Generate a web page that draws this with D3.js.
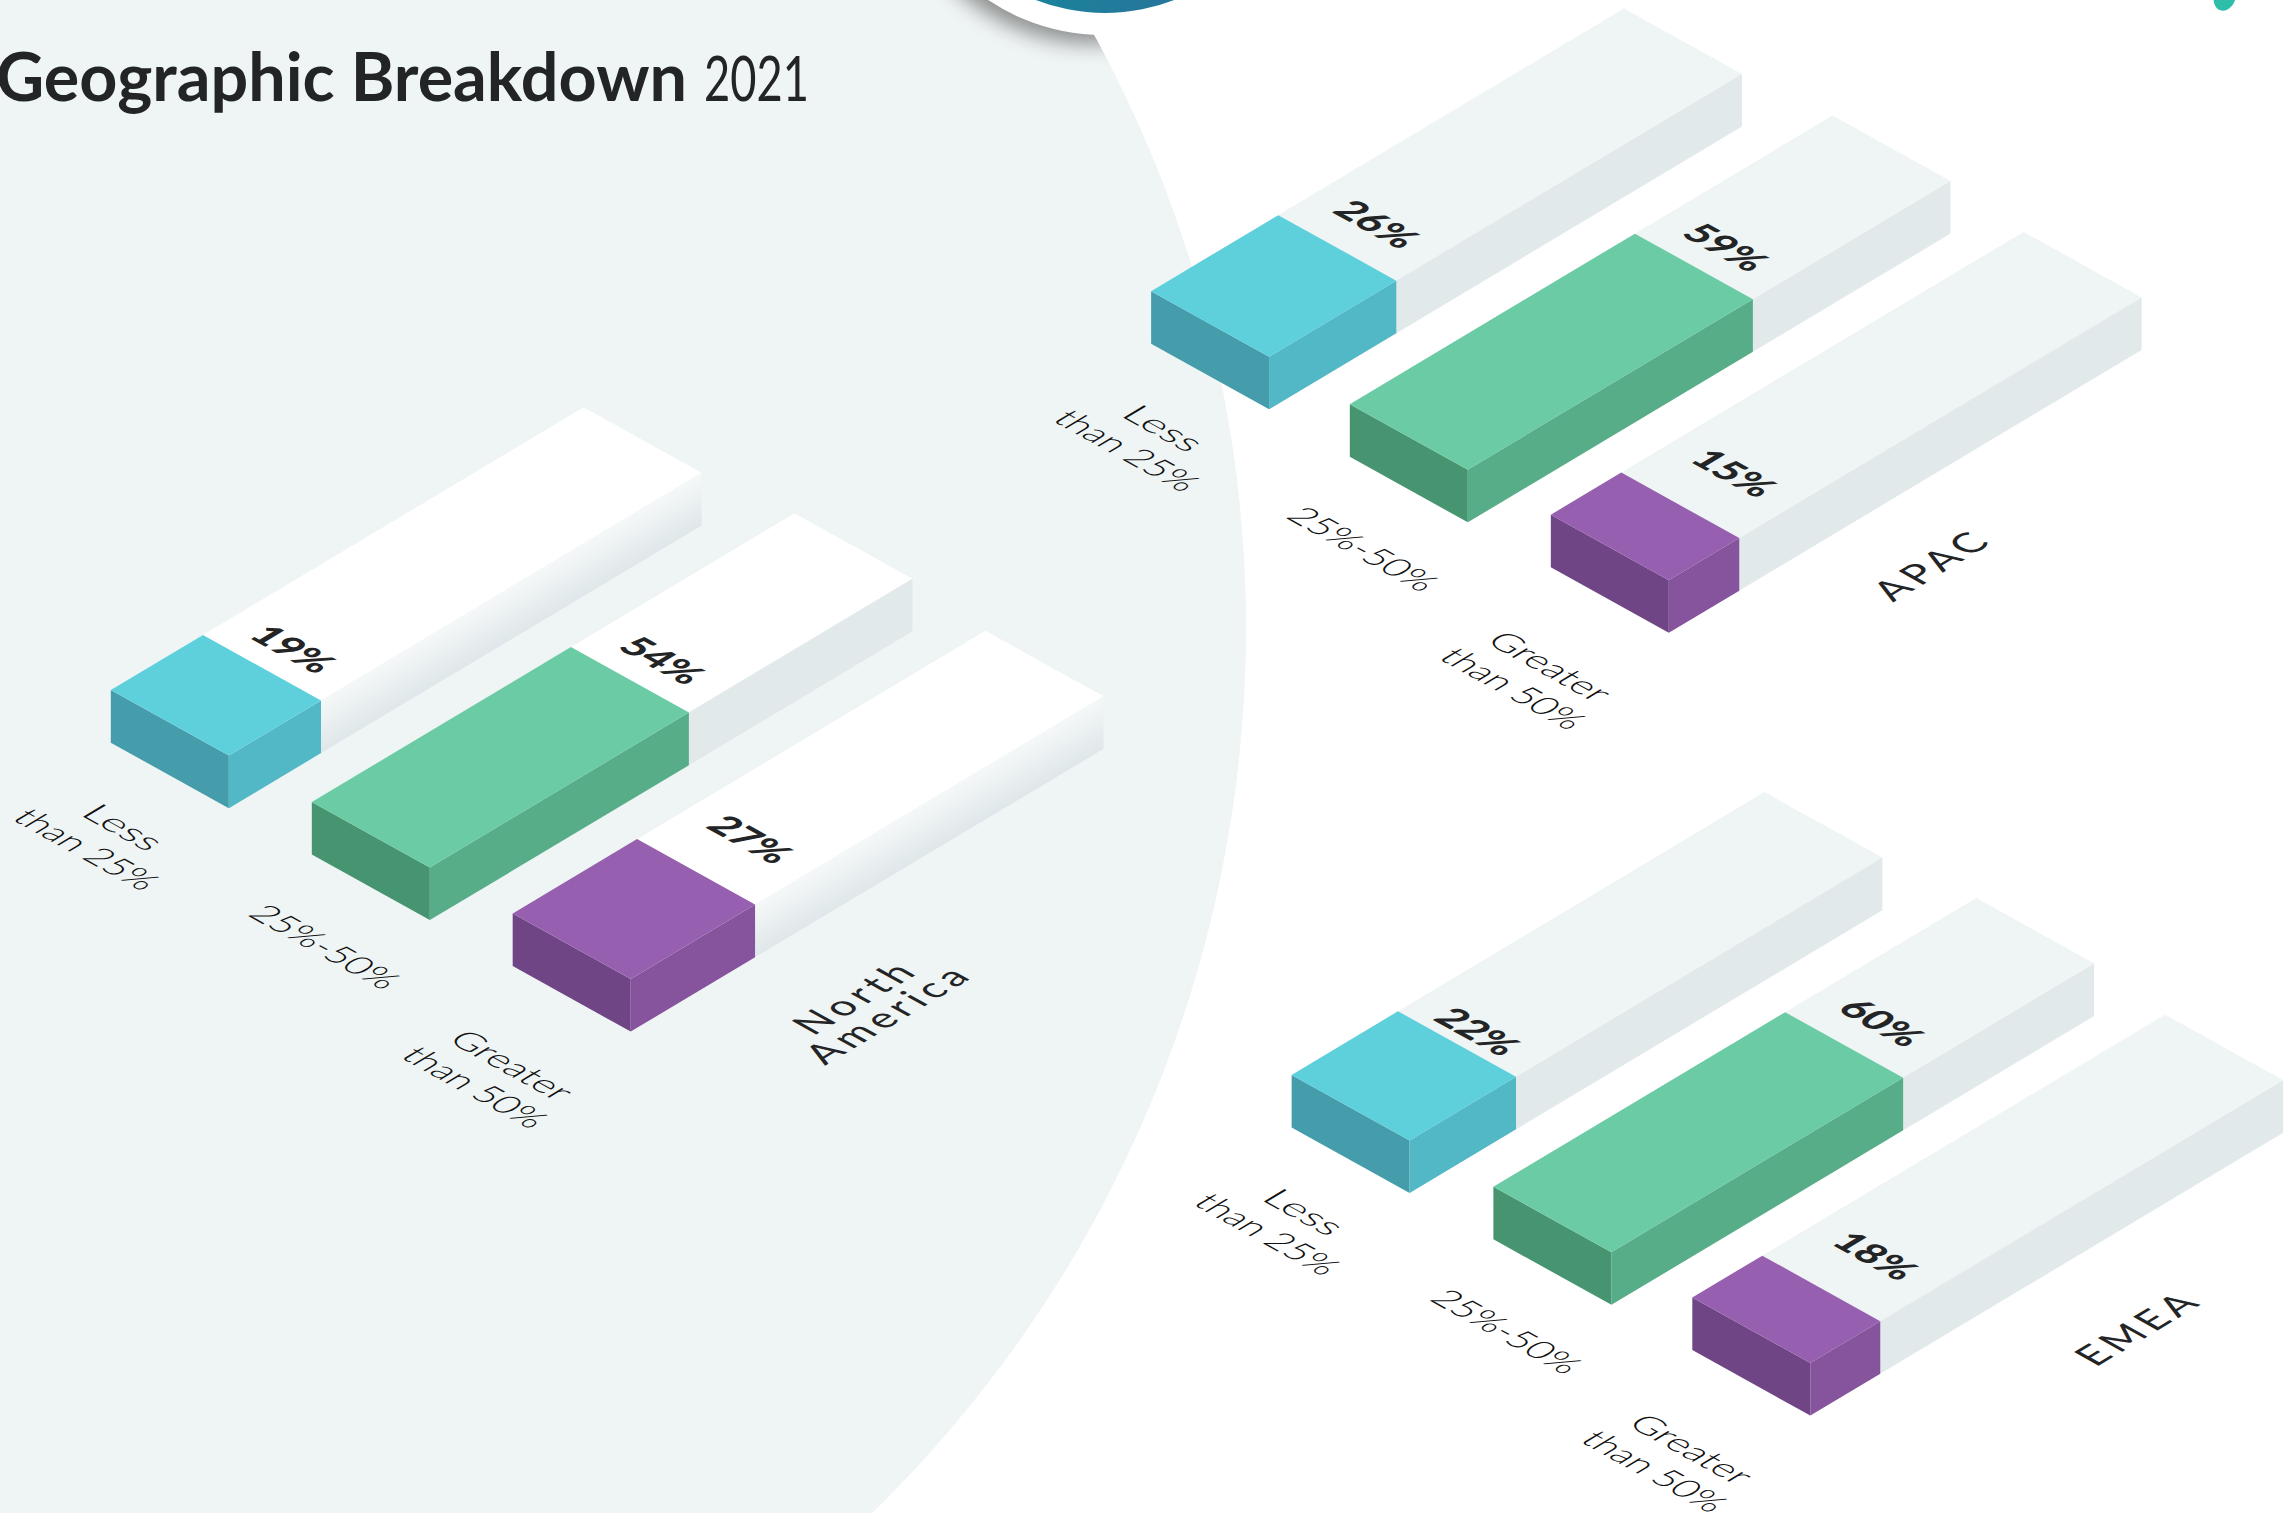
<!DOCTYPE html>
<html><head><meta charset="utf-8">
<style>html,body{margin:0;padding:0;background:#fff;overflow:hidden}svg{display:block}text{font-family:Lato,sans-serif;fill:#232425}</style>
<script src="https://cdn.jsdelivr.net/npm/d3@7/dist/d3.min.js"></script>
</head><body><svg id="c" width="2288" height="1513"></svg>
<script>
// Data
const regions = ["North America", "APAC", "EMEA"];
const categories = ["Less than 25%", "25%-50%", "Greater than 50%"];
const categoryLines = [["Less", "than 25%"], ["25%-50%"], ["Greater", "than 50%"]];
const printedNorthAmerica = [19, 54, 27];
const printedApac = [26, 59, 15];
const printedEmea = [22, 60, 18];
// Drawn bar lengths as measured from the artwork (percent of the track)
const drawnNorthAmerica = [19.5, 54.8, 26.3];
const drawnApac = [26.9, 60.3, 14.9];
const drawnEmea = [22.5, 61.7, 14.8];
const trackExtent = [100, 102.1, 100];
const titleBold = "Geographic Breakdown";
const titleLight = "2021";

// Layout
const colorTop = ["#5ED0DC", "#6ACBA4", "#975FB0"];
const colorLeft = ["#459DAC", "#479570", "#704585"];
const colorRight = ["#52B8C6", "#56AD87", "#86549C"];
const lenX = d3.scaleLinear([0, 100], [0, 472.8]);
const lenY = d3.scaleLinear([0, 100], [0, -282.8]);
const depth = [118, 65.5], rise = 52.6;
const ux = [.874, .485], uy = [-.858, .513], uv = [.858, -.513];
const panelCfg = [
  {name: regions[0], printed: printedNorthAmerica, drawn: drawnNorthAmerica, o: [228.8, 755.6],
   stepX: [0, 201, 401.9], stepY: [0, 111.9, 223.4], labelAt: [6.6, 6.9, 11.5], onPanel: true,
   nameLines: [["North", 855, 997], ["America", 888, 1014]]},
  {name: regions[1], printed: printedApac, drawn: drawnApac, o: [1269.1, 356.7],
   stepX: [0, 198.7, 399.7], stepY: [0, 113, 223.5], labelAt: [8.4, 6.8, 11.4], onPanel: false,
   nameLines: [["APAC", 1932, 565]]},
  {name: regions[2], printed: printedEmea, drawn: drawnEmea, o: [1409.6, 1140.4],
   stepX: [0, 201.8, 400.7], stepY: [0, 111.8, 222.6], labelAt: [4.4, 8.0, 11.5], onPanel: false,
   nameLines: [["EMEA", 2138, 1328]]}
];
const catAnchor = [[-105, 71.5], [-104.5, 79], [-118.5, 86]];
const catLengths = [[78, 150], [156], [126, 150]];
const catStep = 43;

const svg = d3.select("#c");
const defs = svg.append("defs");
const poly = pts => pts.map(p => p.join(",")).join(" ");
const groundT = (x, y) => `matrix(${ux[0]},${ux[1]},${uy[0]},${uy[1]},${x},${y})`;
const nameT = (x, y) => `matrix(${uv[0]},${uv[1]},${ux[0]},${ux[1]},${x},${y})`;

// background
const bigCircle = {cx: 12, cy: 628, r: 1234};
svg.append("rect").attr("width", 2288).attr("height", 1513).attr("fill", "#fff");
svg.append("circle").attr("cx", bigCircle.cx).attr("cy", bigCircle.cy).attr("r", bigCircle.r).attr("fill", "#EFF4F4");

defs.append("clipPath").attr("id", "bigClip").append("circle")
  .attr("cx", bigCircle.cx).attr("cy", bigCircle.cy).attr("r", bigCircle.r);
defs.append("filter").attr("id", "blur").attr("x", "-20%").attr("y", "-20%").attr("width", "140%").attr("height", "140%")
  .append("feGaussianBlur").attr("stdDeviation", 10);
const tealG = defs.append("linearGradient").attr("id", "teal");
tealG.append("stop").attr("offset", 0).attr("stop-color", "#118F9B");
tealG.append("stop").attr("offset", 1).attr("stop-color", "#30699A");

svg.append("g").attr("clip-path", "url(#bigClip)").append("circle")
  .attr("cx", 1095).attr("cy", -162).attr("r", 206).attr("fill", "#555").attr("opacity", .62).attr("filter", "url(#blur)");
svg.append("circle").attr("cx", 1103).attr("cy", -171).attr("r", 206).attr("fill", "#fff");
svg.append("circle").attr("cx", 1105).attr("cy", -178).attr("r", 191).attr("fill", "url(#teal)");
svg.append("ellipse").attr("cx", 2225).attr("cy", -4).attr("rx", 11).attr("ry", 15)
  .attr("transform", "rotate(18 2225 -4)").attr("fill", "#2EBDA9");

// title
svg.append("text").attr("x", -4).attr("y", 101).attr("font-size", 66).attr("font-weight", 700)
  .attr("textLength", 691).attr("lengthAdjust", "spacingAndGlyphs").text(titleBold);
svg.append("text").attr("x", 704).attr("y", 101).attr("font-size", 62).attr("font-weight", 400)
  .attr("textLength", 105).attr("lengthAdjust", "spacingAndGlyphs").text(titleLight);

panelCfg.forEach((p, pi) => {
  const g = svg.append("g").attr("class", "panel").attr("data-region", p.name);
  const px = d3.scaleOrdinal(categories, p.stepX);
  const py = d3.scaleOrdinal(categories, p.stepY);
  categories.forEach((cat, i) => {
    const F = [p.o[0] + px(cat), p.o[1] + py(cat)];
    const L = [F[0] - depth[0], F[1] - depth[1]];
    const along = (pt, v) => [pt[0] + lenX(v), pt[1] + lenY(v)];
    const down = pt => [pt[0], pt[1] + rise];
    const farF = along(F, trackExtent[i]), farL = along(L, trackExtent[i]);
    // track
    g.append("polygon").attr("points", poly([L, farL, farF, F])).attr("fill", p.onPanel ? "#fff" : "#EFF4F4");
    if (p.onPanel && i !== 1) {
      const id = `side${pi}${i}`;
      const mx = (F[0] + farF[0]) / 2, my = (F[1] + farF[1]) / 2;
      const gr = defs.append("linearGradient").attr("id", id).attr("gradientUnits", "userSpaceOnUse")
        .attr("x1", mx).attr("y1", my).attr("x2", mx + rise * .513 * .858).attr("y2", my + rise * .858 * .858);
      gr.append("stop").attr("offset", 0).attr("stop-color", "#F5F8F8");
      gr.append("stop").attr("offset", 1).attr("stop-color", "#DFE7EA");
    }
    g.append("polygon").attr("points", poly([F, farF, down(farF), down(F)]))
      .attr("fill", (p.onPanel && i !== 1) ? `url(#side${pi}${i})` : "#E1E9EB");
    // bar
    const v = p.drawn[i];
    const E = along(F, v), B = along(L, v);
    g.append("polygon").attr("points", poly([L, F, down(F), down(L)])).attr("fill", colorLeft[i]);
    g.append("polygon").attr("points", poly([F, E, down(E), down(F)])).attr("fill", colorRight[i]);
    g.append("polygon").attr("points", poly([L, B, E, F])).attr("fill", colorTop[i]);
    // value label
    const mid = [(B[0] + E[0]) / 2, (B[1] + E[1]) / 2];
    const c = along(mid, p.labelAt[i]);
    g.append("text").attr("transform", groundT(c[0], c[1])).attr("text-anchor", "middle").attr("dy", ".36em")
      .attr("font-size", 37).attr("font-weight", 900).attr("textLength", 79).attr("lengthAdjust", "spacingAndGlyphs")
      .text(p.printed[i] + "%");
    // category label
    categoryLines[i].forEach((line, li) => {
      const cx = F[0] + catAnchor[i][0] + uy[0] * catStep * li;
      const cy = F[1] + catAnchor[i][1] + uy[1] * catStep * li;
      g.append("text").attr("transform", groundT(cx, cy)).attr("text-anchor", "middle").attr("dy", ".36em")
        .attr("font-size", 34).attr("font-weight", 300).style("fill", "#111").attr("textLength", catLengths[i][li]).attr("lengthAdjust", "spacingAndGlyphs")
        .text(line);
    });
  });
  p.nameLines.forEach(([t, x, y]) => {
    g.append("text").attr("transform", nameT(x, y)).attr("text-anchor", "middle").attr("dy", ".36em")
      .attr("font-size", 39).attr("font-weight", 400).attr("letter-spacing", 5).text(t);
  });
});
</script></body></html>
